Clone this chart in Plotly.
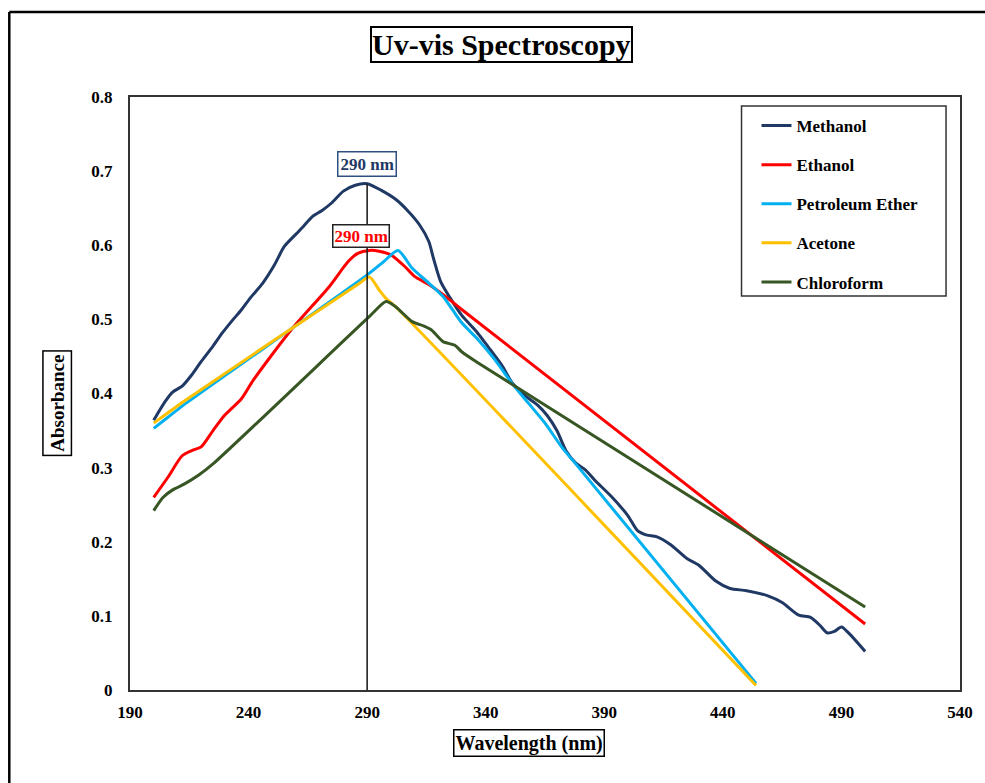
import plotly.graph_objects as go

# Wavelength (nm) / absorbance readings for each solvent
methanol_wl = [200, 205, 208, 212, 216, 220, 225, 229, 233, 237, 241, 246, 251, 255, 260, 263, 267,
               271, 275, 280, 285, 290, 296, 302, 307, 312, 316, 318, 321, 325, 330, 336, 341, 347,
               351, 357, 362, 366, 370, 374, 378, 382, 386, 393, 400, 404, 408, 412, 418, 425, 430,
               437, 443, 450, 459, 465, 472, 477, 481, 484, 487, 490, 493, 500]
methanol_abs = [0.364, 0.390, 0.402, 0.410, 0.425, 0.443, 0.464, 0.482, 0.498, 0.513, 0.530, 0.549,
                0.574, 0.598, 0.615, 0.625, 0.639, 0.647, 0.657, 0.673, 0.681, 0.683, 0.674, 0.662,
                0.647, 0.628, 0.605, 0.582, 0.551, 0.529, 0.505, 0.484, 0.463, 0.437, 0.415, 0.396,
                0.384, 0.370, 0.350, 0.322, 0.306, 0.297, 0.283, 0.261, 0.235, 0.215, 0.209, 0.207,
                0.196, 0.177, 0.168, 0.147, 0.137, 0.134, 0.127, 0.118, 0.101, 0.098, 0.087, 0.077,
                0.079, 0.085, 0.077, 0.052]

ethanol_wl = [200, 206, 212, 216, 220, 225, 230, 237, 242, 258, 274, 282, 286, 291, 295, 300, 306,
              310, 316, 323, 330, 500]
ethanol_abs = [0.260, 0.287, 0.316, 0.323, 0.328, 0.350, 0.371, 0.393, 0.418, 0.486, 0.544, 0.578,
               0.589, 0.593, 0.592, 0.587, 0.571, 0.558, 0.547, 0.531, 0.513, 0.089]

pet_ether_wl = [200, 206, 212, 290, 297, 303, 309, 316, 322, 326, 330, 337, 344, 351, 358, 365, 372,
                379, 454]
pet_ether_abs = [0.353, 0.368, 0.383, 0.560, 0.578, 0.593, 0.569, 0.549, 0.531, 0.513, 0.495, 0.472,
                 0.445, 0.414, 0.387, 0.360, 0.328, 0.301, 0.009]

acetone_wl = [200, 206, 212, 286, 291, 295, 298, 302, 454]
acetone_abs = [0.360, 0.374, 0.388, 0.547, 0.557, 0.540, 0.528, 0.517, 0.006]

chloroform_wl = [200, 204, 208, 213, 219, 225, 291, 298, 302, 309, 314, 317, 322, 327, 330, 336, 500]
chloroform_abs = [0.242, 0.260, 0.270, 0.278, 0.290, 0.305, 0.504, 0.524, 0.517, 0.497, 0.491,
                  0.486, 0.470, 0.465, 0.456, 0.443, 0.112]

series_names = ["Methanol", "Ethanol", "Petroleum Ether", "Acetone", "Chloroform"]
series_colors = ["#1F3864", "#FF0000", "#00B0F0", "#FFC000", "#375623"]
series_data = [(methanol_wl, methanol_abs), (ethanol_wl, ethanol_abs),
               (pet_ether_wl, pet_ether_abs), (acetone_wl, acetone_abs),
               (chloroform_wl, chloroform_abs)]

x_ticks = [190, 240, 290, 340, 390, 440, 490, 540]
y_ticks = [0, 0.1, 0.2, 0.3, 0.4, 0.5, 0.6, 0.7, 0.8]
peak_label = "290 nm"
peak_wl = 290

SERIF = "Liberation Serif"

fig = go.Figure()
for name, color, (wl, ab) in zip(series_names, series_colors, series_data):
    fig.add_trace(go.Scatter(
        x=wl, y=ab, name=name, mode="lines", legendgroup=name,
        line=dict(color=color, width=3, shape="spline", smoothing=0.7),
    ))

# vertical marker through the methanol maximum
fig.add_shape(type="line", xref="x", yref="y",
              x0=peak_wl, x1=peak_wl, y0=0, y1=max(methanol_abs),
              line=dict(color="#222222", width=1.6))

L, R, T, B = 130, 23, 97, 93
W, H = 985, 783
pw, ph = W - L - R, H - T - B

def px_x(p):
    return (p - L) / pw

def px_y(p):
    return (H - B - p) / ph

frame = dict(color="black", width=2.5)
# outer frame (top and left edges)
fig.add_shape(type="line", xref="paper", yref="paper",
              x0=px_x(9), x1=px_x(990), y0=px_y(12), y1=px_y(12), line=frame)
fig.add_shape(type="line", xref="paper", yref="paper",
              x0=px_x(9), x1=px_x(9), y0=px_y(12), y1=px_y(790), line=frame)
# legend frame
fig.add_shape(type="rect", xref="paper", yref="paper",
              x0=px_x(743), x1=px_x(948), y0=px_y(106), y1=px_y(296),
              line=dict(color="#333333", width=1.5))


def boxed(text, cx, cy, size, color="black", border="black", bw=1.5, pad=2, angle=0):
    return dict(text="<b>%s</b>" % text, x=px_x(cx), y=px_y(cy), xref="paper", yref="paper",
                xanchor="center", yanchor="middle", showarrow=False, textangle=angle,
                font=dict(family=SERIF, size=size, color=color),
                bordercolor=border, borderwidth=bw, borderpad=pad, bgcolor="white")


annots = [
    boxed("Uv-vis Spectroscopy", 502, 45, 30, bw=2, pad=0),
    boxed("Absorbance", 57, 403, 19, pad=3, angle=-90),
    boxed("Wavelength (nm)", 530, 743, 20, pad=1),
    boxed(peak_label, 368, 164, 17, color="#1F3864", border="#2E5080", pad=2),
    boxed(peak_label, 362, 236, 17, color="#FF0000", border="#222222", pad=1),
]

fig.update_layout(
    width=W, height=H,
    margin=dict(l=L, r=R, t=T, b=B, pad=0),
    paper_bgcolor="white", plot_bgcolor="white",
    annotations=annots,
    showlegend=True,
    legend=dict(
        x=px_x(758), y=px_y(108), xanchor="left", yanchor="top",
        borderwidth=0, bgcolor="rgba(0,0,0,0)",
        font=dict(family=SERIF, size=17, color="black", weight="bold"),
        tracegroupgap=14, itemwidth=30,
    ),
    xaxis=dict(range=[190, 540], tickvals=x_ticks, showgrid=False, zeroline=False,
               showline=True, linecolor="#333333", linewidth=2, mirror=True,
               ticks="", ticklabelstandoff=6,
               tickfont=dict(family=SERIF, size=17, color="black", weight="bold")),
    yaxis=dict(range=[0, 0.8], tickvals=y_ticks, ticktext=[("%g" % v) for v in y_ticks],
               showgrid=False, zeroline=False,
               showline=True, linecolor="#333333", linewidth=2, mirror=True,
               ticks="", ticklabelstandoff=12,
               tickfont=dict(family=SERIF, size=17, color="black", weight="bold")),
)

fig.write_html("out.html")
